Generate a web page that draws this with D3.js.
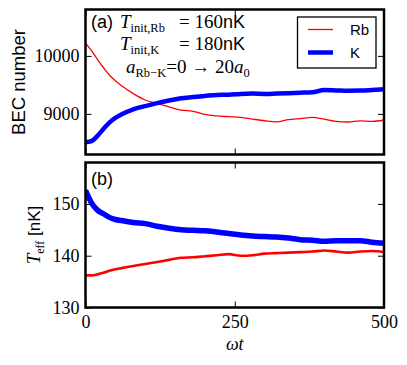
<!DOCTYPE html>
<html>
<head>
<meta charset="utf-8">
<script src="https://cdn.jsdelivr.net/npm/d3@7"></script>
<style>
body { margin: 0; background: #fff; }
.serif { font-family: "Liberation Serif", serif; }
.sans { font-family: "Liberation Sans", Arial, sans-serif; }
.tick line { stroke: #000; stroke-width: 1; }
.tick text { font-family: "Liberation Serif", serif; font-size: 18px; fill: #000; }
</style>
</head>
<body>
<div class="chart"></div>
<script>
// omega t sample positions
const wt = [0, 10, 20, 30, 40, 50, 60, 80, 100, 120, 140, 160, 180, 200, 220, 240,
  260, 280, 300, 320, 340, 360, 380, 400, 420, 440, 460, 480, 500];

// (a) BEC number
const becRb = [10220, 10090, 9940, 9800, 9670, 9570, 9490, 9350, 9240, 9180, 9120, 9065,
  9045, 8990, 8965, 8952, 8940, 8910, 8882, 8862, 8900, 8920, 8940, 8910, 8870, 8860,
  8880, 8870, 8895];
const becK = [8510, 8530, 8620, 8740, 8850, 8930, 8990, 9080, 9135, 9185, 9230, 9270,
  9290, 9310, 9328, 9330, 9345, 9350, 9345, 9350, 9357, 9365, 9374, 9410, 9405, 9400,
  9402, 9412, 9425];

// (b) T_eff [nK]
const teffRb = [136.2, 136.2, 136.4, 136.7, 137.1, 137.4, 137.6, 138.0, 138.4, 138.8,
  139.2, 139.6, 139.7, 139.9, 140.1, 140.3, 140.0, 140.1, 140.4, 140.5, 140.6, 140.7,
  140.8, 141.0, 140.8, 140.6, 140.8, 140.9, 140.7];
const teffK = [152.6, 150.2, 148.8, 148.1, 147.4, 147.0, 146.8, 146.4, 146.2, 145.7,
  145.3, 145.0, 144.9, 144.8, 144.6, 144.3, 144.0, 143.8, 143.7, 143.6, 143.4, 143.1,
  143.0, 142.8, 142.9, 142.9, 142.9, 142.6, 142.4];

const xTicks = [0, 250, 500];
const yTicksA = [9000, 10000];
const yTicksB = [130, 140, 150];
const legendNames = ["Rb", "K"];

const W = 407, H = 365;
const left = 85.5, right = 384;
const panelA = { top: 9.5, bottom: 154.5 };
const panelB = { top: 162.5, bottom: 307.5 };

const svg = d3.select(".chart").append("svg")
  .attr("width", W).attr("height", H);

const x = d3.scaleLinear().domain([0, 500]).range([left, right]);
const yA = d3.scaleLinear().domain([8300, 10800]).range([panelA.bottom, panelA.top]);
const yB = d3.scaleLinear().domain([130, 158]).range([panelB.bottom, panelB.top]);

function drawPanel(p, y, yTicks, showX) {
  const g = svg.append("g");
  // left axis (labels) with inward ticks
  g.append("g").attr("transform", `translate(${left},0)`)
    .call(d3.axisLeft(y).tickValues(yTicks).tickSize(-6).tickPadding(6).tickFormat(d3.format("d")))
    .call(a => a.select(".domain").remove());
  g.append("g").attr("transform", `translate(${right},0)`)
    .call(d3.axisRight(y).tickValues(yTicks).tickSize(-6).tickFormat(""))
    .call(a => a.select(".domain").remove());
  g.append("g").attr("transform", `translate(0,${p.bottom})`)
    .call(d3.axisBottom(x).tickValues(xTicks).tickSize(-6).tickPadding(8)
      .tickFormat(showX ? d3.format("d") : ""))
    .call(a => a.select(".domain").remove());
  g.append("g").attr("transform", `translate(0,${p.top})`)
    .call(d3.axisTop(x).tickValues(xTicks).tickSize(-6).tickFormat(""))
    .call(a => a.select(".domain").remove());
  return g;
}

function frame(p) {
  svg.append("rect")
    .attr("x", left).attr("y", p.top)
    .attr("width", right - left).attr("height", p.bottom - p.top)
    .attr("fill", "none").attr("stroke", "#000").attr("stroke-width", 2.5);
}

// clip paths so lines stay inside the frames
const defs = svg.append("defs");
[["clipA", panelA], ["clipB", panelB]].forEach(([id, p]) => {
  defs.append("clipPath").attr("id", id).append("rect")
    .attr("x", left).attr("y", p.top).attr("width", right - left).attr("height", p.bottom - p.top);
});

drawPanel(panelA, yA, yTicksA, false);
drawPanel(panelB, yB, yTicksB, true);

const lineA = d3.line().x((d, i) => x(wt[i])).y(d => yA(d)).curve(d3.curveMonotoneX);
const lineB = d3.line().x((d, i) => x(wt[i])).y(d => yB(d)).curve(d3.curveMonotoneX);

const gA = svg.append("g").attr("clip-path", "url(#clipA)");
gA.append("path").datum(becRb).attr("d", lineA).attr("fill", "none")
  .attr("stroke", "#ff0000").attr("stroke-width", 1.3);
gA.append("path").datum(becK).attr("d", lineA).attr("fill", "none")
  .attr("stroke", "#0000ff").attr("stroke-width", 4.5).attr("stroke-linejoin", "round");

const gB = svg.append("g").attr("clip-path", "url(#clipB)");
gB.append("path").datum(teffRb).attr("d", lineB).attr("fill", "none")
  .attr("stroke", "#ff0000").attr("stroke-width", 2.6);
gB.append("path").datum(teffK).attr("d", lineB).attr("fill", "none")
  .attr("stroke", "#0000ff").attr("stroke-width", 5.5).attr("stroke-linejoin", "round");

frame(panelA);
frame(panelB);

// y labels
svg.append("text").attr("class", "sans")
  .attr("transform", `translate(25,${(panelA.top + panelA.bottom) / 2}) rotate(-90)`)
  .attr("text-anchor", "middle").style("font-size", "18.5px")
  .text("BEC number");

const tl = svg.append("text")
  .attr("transform", `translate(40,${(panelB.top + panelB.bottom) / 2}) rotate(-90)`)
  .attr("text-anchor", "middle");
tl.append("tspan").attr("class", "serif").style("font-style", "italic").style("font-size", "19px").text("T");
tl.append("tspan").attr("class", "serif").style("font-size", "12px").attr("dy", 4).text("eff");
tl.append("tspan").attr("class", "sans").style("font-size", "17px").attr("dy", -4).text("\u00a0[nK]");

// x label
svg.append("text").attr("x", x(250)).attr("y", 350)
  .attr("text-anchor", "middle").attr("class", "serif").style("font-size", "18px")
  .style("font-style", "italic").text("\u03c9t");

// panel letters
svg.append("text").attr("class", "sans").attr("x", 91).attr("y", 28)
  .style("font-size", "18px").text("(a)");
svg.append("text").attr("class", "sans").attr("x", 91).attr("y", 185)
  .style("font-size", "18px").text("(b)");

// annotation lines
function tempLine(yPos, sub, val) {
  const t = svg.append("text").attr("y", yPos);
  t.append("tspan").attr("class", "serif").attr("x", 120).style("font-style", "italic")
    .style("font-size", "19px").text("T");
  t.append("tspan").attr("class", "serif").attr("dy", 4).style("font-size", "12.5px").text(sub);
  t.append("tspan").attr("class", "serif").attr("x", 179).attr("dy", -4)
    .style("font-size", "19px").text("= " + val);
  t.append("tspan").attr("class", "sans").style("font-size", "18px").text("nK");
}
tempLine(28, "init,Rb", 160);
tempLine(50, "init,K", 180);

const a3 = svg.append("text").attr("y", 73);
a3.append("tspan").attr("class", "serif").attr("x", 126).style("font-style", "italic")
  .style("font-size", "19px").text("a");
a3.append("tspan").attr("class", "serif").attr("dy", 4).style("font-size", "12.5px").text("Rb\u2212K");
a3.append("tspan").attr("class", "serif").attr("dy", -4).style("font-size", "19px").text("=0 \u2192 20");
a3.append("tspan").attr("class", "serif").style("font-style", "italic").style("font-size", "19px").text("a");
a3.append("tspan").attr("class", "serif").attr("dy", 4).style("font-size", "12.5px").text("0");

// legend
const lg = svg.append("g");
lg.append("rect").attr("x", 297.5).attr("y", 17).attr("width", 78.5).attr("height", 51)
  .attr("fill", "#fff").attr("stroke", "#000").attr("stroke-width", 1.3);
const legColors = ["#ff0000", "#0000ff"];
const legWidths = [1.3, 4.5];
legendNames.forEach((n, i) => {
  const yy = 29.5 + i * 23;
  lg.append("line").attr("x1", 308).attr("x2", 333).attr("y1", yy).attr("y2", yy)
    .attr("stroke", legColors[i]).attr("stroke-width", legWidths[i]);
  lg.append("text").attr("class", "sans").attr("x", 350).attr("y", yy + 5.5)
    .style("font-size", "15px").text(n);
});
</script>
</body>
</html>
